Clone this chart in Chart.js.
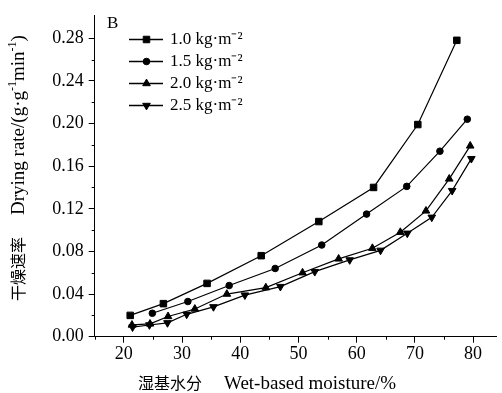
<!DOCTYPE html>
<html><head><meta charset="utf-8">
<script src="https://cdn.jsdelivr.net/npm/chart.js@4.4.1/dist/chart.umd.min.js"></script>
<style>html,body{margin:0;padding:0;background:#fff;overflow:hidden}#wrap{width:502px;height:393px}</style>
</head><body><div id="wrap"><canvas id="c" width="502" height="393"></canvas></div>
<script>
// ---- data ----
const seriesLabels = ['1.0 kg·m⁻²', '1.5 kg·m⁻²', '2.0 kg·m⁻²', '2.5 kg·m⁻²'];
const x10 = [21.1, 26.8, 34.3, 43.6, 53.5, 62.9, 70.5, 77.2];
const y10 = [0.020, 0.031, 0.050, 0.076, 0.108, 0.140, 0.199, 0.278];
const x15 = [24.9, 31.0, 38.1, 46.0, 54.0, 61.7, 68.6, 74.3, 79.0];
const y15 = [0.022, 0.033, 0.048, 0.064, 0.086, 0.115, 0.141, 0.174, 0.204];
const x20 = [21.4, 24.5, 27.6, 32.2, 37.7, 44.4, 50.7, 56.9, 62.7, 67.5, 71.9, 75.9, 79.5];
const y20 = [0.011, 0.012, 0.019, 0.026, 0.040, 0.046, 0.060, 0.073, 0.083, 0.098, 0.118, 0.148, 0.179];
const x25 = [21.5, 24.4, 27.5, 30.8, 35.4, 40.8, 46.9, 52.8, 58.8, 64.1, 68.7, 72.9, 76.4, 79.7];
const y25 = [0.009, 0.011, 0.013, 0.021, 0.028, 0.039, 0.047, 0.061, 0.072, 0.081, 0.097, 0.112, 0.137, 0.167];
const xTickValues = [15, 20, 25, 30, 35, 40, 45, 50, 55, 60, 65, 70, 75, 80];
const yTickValues = [0, 0.02, 0.04, 0.06, 0.08, 0.10, 0.12, 0.14, 0.16, 0.18, 0.20, 0.22, 0.24, 0.26, 0.28];
const panelLabel = 'B';
const xTitleCN = '湿基水分';
const xTitleEN = 'Wet-based moisture/%';
const yTitleCN = '干燥速率';
const yTitleEN = ['Drying rate/(g·g', '-1', 'min', '-1', ')'];

const SERIF = "'Liberation Serif', 'Times New Roman', serif";
const CJK = "'Noto Sans CJK SC', sans-serif";
const FS = 17;      // legend / panel label
const TICK_FS = 18; // tick labels
const TITLE_FS = 19; // axis titles (latin part)
const CJK_FS = 16;  // axis titles (CJK part)

Chart.defaults.font.family = SERIF;
Chart.defaults.color = '#000';

const styles = [
  {pointStyle: 'rect', radius: 4.6, rotation: 0},
  {pointStyle: 'circle', radius: 3.3, rotation: 0},
  {pointStyle: 'triangle', radius: 4.4, rotation: 0},
  {pointStyle: 'triangle', radius: 4.4, rotation: 180}
];
const xs = [x10, x15, x20, x25];
const ys = [y10, y15, y20, y25];

const datasets = seriesLabels.map((lab, i) => ({
  label: lab,
  data: xs[i].map((x, j) => ({x: x, y: ys[i][j]})),
  borderColor: '#000',
  backgroundColor: '#000',
  borderWidth: 1.2,
  pointStyle: styles[i].pointStyle,
  pointRadius: styles[i].radius,
  pointRotation: styles[i].rotation,
  pointBorderWidth: 1,
  pointBackgroundColor: '#000',
  pointBorderColor: '#000',
  tension: 0
}));

// legend symbols: short line with marker
function legendSymbol(i) {
  const cv = document.createElement('canvas');
  cv.width = 34; cv.height = 13;
  const g = cv.getContext('2d');
  g.strokeStyle = '#000'; g.fillStyle = '#000'; g.lineWidth = 1.3;
  g.beginPath(); g.moveTo(0, 6.5); g.lineTo(34, 6.5); g.stroke();
  g.lineWidth = 1;
  Chart.helpers.drawPoint(g, {pointStyle: styles[i].pointStyle, radius: styles[i].radius, rotation: styles[i].rotation, borderWidth: 1}, 17.5, 6.5);
  return cv;
}
const legendImgs = seriesLabels.map((_, i) => legendSymbol(i));

const isMajorX = v => Math.abs(v % 10) < 1e-6;
const isMajorY = v => Math.round(v * 100) % 4 === 0;

function drawRuns(ctx, cn, en, x, y) {
  ctx.font = CJK_FS + 'px ' + CJK;
  ctx.fillText(cn, x, y); x += ctx.measureText(cn).width + 22;
  en.forEach((t, k) => {
    const sup = (k % 2 === 1);
    ctx.font = (sup ? 12 : TITLE_FS) + 'px ' + SERIF;
    ctx.fillText(t, x, sup ? y - 8 : y);
    x += ctx.measureText(t).width;
  });
}

const extras = {
  id: 'extras',
  afterLayout(chart) {
    const L = chart.legend;
    const w = L.width, h = L.height;
    L.left = 125.5; L.top = 26;
    L.right = L.left + w; L.bottom = L.top + h;
  },
  afterDraw(chart) {
    const ctx = chart.ctx, xs_ = chart.scales.x, ys_ = chart.scales.y, ca = chart.chartArea;
    ctx.save();
    ctx.strokeStyle = '#000'; ctx.lineWidth = 1;
    // minor ticks
    xTickValues.filter(v => !isMajorX(v)).forEach(v => {
      const px = Math.round(xs_.getPixelForValue(v)) + 0.5;
      ctx.beginPath(); ctx.moveTo(px, ca.bottom); ctx.lineTo(px, ca.bottom + 3); ctx.stroke();
    });
    yTickValues.filter(v => !isMajorY(v)).forEach(v => {
      const py = Math.round(ys_.getPixelForValue(v)) + 0.5;
      ctx.beginPath(); ctx.moveTo(ca.left, py); ctx.lineTo(ca.left - 3, py); ctx.stroke();
    });
    ctx.fillStyle = '#000';
    // panel label
    ctx.font = FS + 'px ' + SERIF;
    ctx.textBaseline = 'middle'; ctx.textAlign = 'left';
    ctx.fillText(panelLabel, 107, 24);
    ctx.textBaseline = 'alphabetic';
    // x title
    drawRuns(ctx, xTitleCN, [xTitleEN], 138, 389);
    // y title (rotated)
    ctx.translate(24, 301);
    ctx.rotate(-Math.PI / 2);
    drawRuns(ctx, yTitleCN, yTitleEN, 0, 0);
    ctx.restore();
  }
};

new Chart(document.getElementById('c'), {
  type: 'line',
  data: {datasets: datasets},
  plugins: [extras],
  options: {
    responsive: false,
    devicePixelRatio: 1,
    animation: false,
    layout: {padding: {top: 12, right: 0, left: 0, bottom: 0}},
    plugins: {
      tooltip: {enabled: false},
      legend: {
        position: 'chartArea',
        align: 'start',
        labels: {
          usePointStyle: true,
          pointStyleWidth: 31,
          padding: 5,
          color: '#000',
          font: {size: FS, family: SERIF},
          generateLabels(chart) {
            const items = Chart.defaults.plugins.legend.labels.generateLabels(chart);
            return items.map((it, i) => Object.assign(it, {pointStyle: legendImgs[i], rotation: 0}));
          }
        }
      }
    },
    scales: {
      x: {
        type: 'linear', min: 15, max: 84,
        afterBuildTicks: s => { s.ticks = xTickValues.map(v => ({value: v})); },
        afterFit: s => { s.height = 56.3; },
        ticks: {autoSkip: false, maxRotation: 0, padding: 1, font: {size: TICK_FS}, color: '#000',
          callback: v => isMajorX(v) ? String(v) : ''},
        grid: {display: true, drawOnChartArea: false, tickLength: 6, tickWidth: 1,
          tickColor: c => (c.tick && isMajorX(c.tick.value)) ? '#000' : 'rgba(0,0,0,0)'},
        border: {color: '#000', width: 1}
      },
      y: {
        type: 'linear', min: 0, max: 0.301,
        afterBuildTicks: s => { s.ticks = yTickValues.map(v => ({value: v})); },
        afterFit: s => { s.width = 94.7; },
        ticks: {autoSkip: false, padding: 5, font: {size: TICK_FS}, color: '#000',
          callback: v => isMajorY(v) ? v.toFixed(2) : ''},
        grid: {display: true, drawOnChartArea: false, tickLength: 6, tickWidth: 1,
          tickColor: c => (c.tick && isMajorY(c.tick.value)) ? '#000' : 'rgba(0,0,0,0)'},
        border: {color: '#000', width: 1}
      }
    }
  }
});
</script></body></html>
